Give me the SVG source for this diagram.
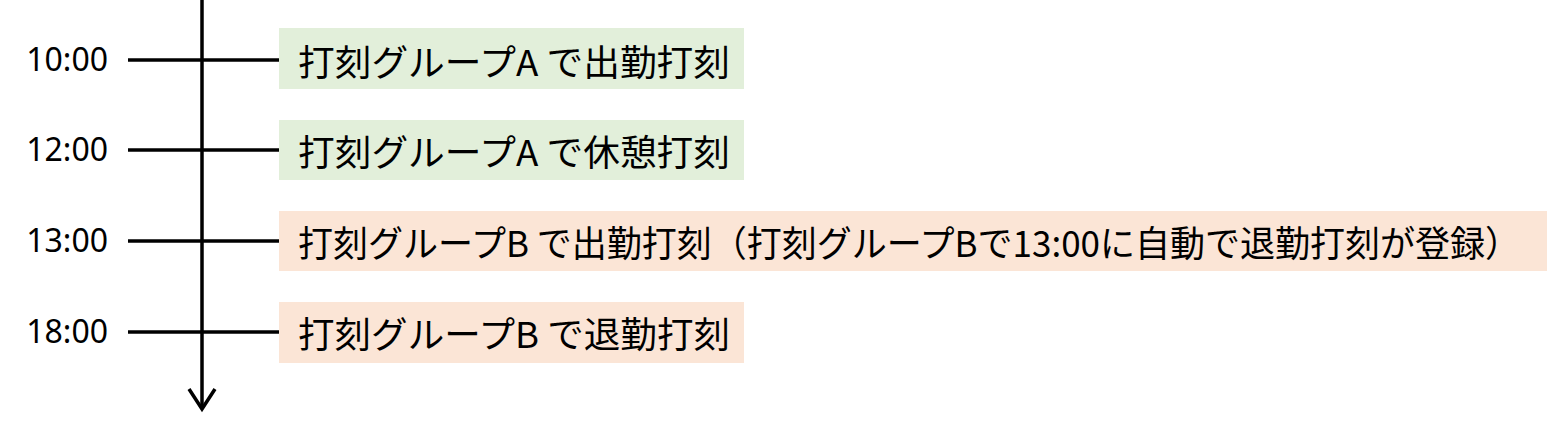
<svg xmlns="http://www.w3.org/2000/svg" width="1552" height="435" viewBox="0 0 1552 435">
<style>
.t{font-family:"Noto Sans","Liberation Sans",sans-serif;font-size:32px;fill:#000;text-anchor:end}
.b{font-family:"Noto Sans CJK JP","Noto Sans",sans-serif;font-size:36px;fill:#000}
.ln{stroke:#000;stroke-width:3.5;fill:none}
.g{fill:#E2EFDA}
.o{fill:#FBE5D6}
</style>
<rect width="1552" height="435" fill="#fff"/>
<g id="connectors">
<line class="ln" x1="202" y1="0" x2="202" y2="408"/>
<polyline class="ln" stroke-width="4" points="189,389 202,409 215,389"/>
<line class="ln" x1="128" y1="60" x2="279" y2="60"/>
<line class="ln" x1="128" y1="150" x2="279" y2="150"/>
<line class="ln" x1="128" y1="241" x2="279" y2="241"/>
<line class="ln" x1="128" y1="332" x2="279" y2="332"/>
</g>
<g id="t1000"><text class="t" x="108" y="71">10:00</text></g>
<g id="t1200"><text class="t" x="108" y="161">12:00</text></g>
<g id="t1300"><text class="t" x="108" y="252">13:00</text></g>
<g id="t1800"><text class="t" x="108" y="343">18:00</text></g>
<g id="n1"><rect class="g" x="279" y="28" width="465" height="61"/><text class="b" x="298" y="76" textLength="432" lengthAdjust="spacingAndGlyphs">打刻グループA で出勤打刻</text></g>
<g id="n2"><rect class="g" x="279" y="120" width="465" height="60"/><text class="b" x="298" y="166" textLength="432" lengthAdjust="spacingAndGlyphs">打刻グループA で休憩打刻</text></g>
<g id="n3"><rect class="o" x="279" y="211" width="1268" height="60"/><text class="b" x="298" y="257" textLength="1222" lengthAdjust="spacingAndGlyphs">打刻グループB で出勤打刻（打刻グループBで13:00に自動で退勤打刻が登録）</text></g>
<g id="n4"><rect class="o" x="279" y="302" width="465" height="61"/><text class="b" x="298" y="348" textLength="432" lengthAdjust="spacingAndGlyphs">打刻グループB で退勤打刻</text></g>
</svg>
